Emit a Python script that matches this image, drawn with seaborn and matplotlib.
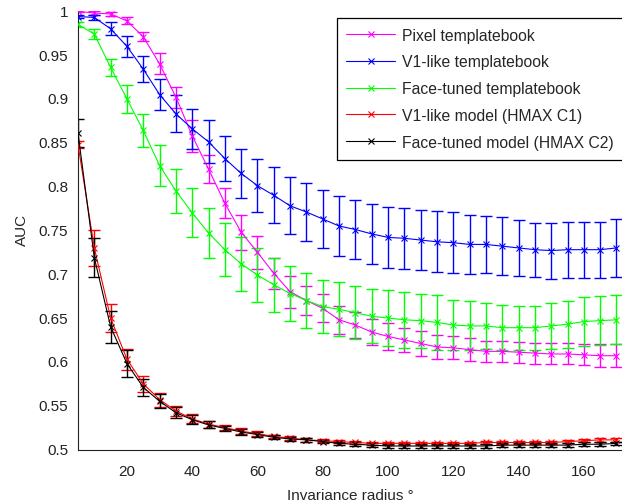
import numpy as np
import pandas as pd
import matplotlib
matplotlib.use("Agg")
import matplotlib.pyplot as plt
import seaborn as sns

sns.set_style("white")
plt.rcParams["font.family"] = ["Liberation Sans", "DejaVu Sans"]

radius = list(range(5, 175, 5))

pixel_auc = [1.000, 0.998, 0.997, 0.989, 0.971, 0.940, 0.902, 0.858, 0.820, 0.781,
             0.748, 0.725, 0.701, 0.680, 0.670, 0.661, 0.648, 0.642, 0.634, 0.629,
             0.625, 0.621, 0.617, 0.616, 0.614, 0.612, 0.612, 0.611, 0.610, 0.609,
             0.609, 0.608, 0.607, 0.607]
pixel_err = [0.001, 0.002, 0.002, 0.004, 0.005, 0.012, 0.012, 0.018, 0.016, 0.017,
             0.020, 0.019, 0.018, 0.018, 0.017, 0.016, 0.016, 0.015, 0.015, 0.015,
             0.014, 0.014, 0.014, 0.013, 0.013, 0.012, 0.012, 0.012, 0.012, 0.012,
             0.012, 0.012, 0.013, 0.013]

v1_auc = [0.994, 0.993, 0.980, 0.960, 0.934, 0.905, 0.883, 0.866, 0.851, 0.832,
          0.815, 0.801, 0.790, 0.778, 0.771, 0.763, 0.755, 0.751, 0.746, 0.742,
          0.741, 0.739, 0.737, 0.736, 0.734, 0.734, 0.732, 0.730, 0.728, 0.727,
          0.728, 0.728, 0.728, 0.730]
v1_err = [0.002, 0.003, 0.0075, 0.012, 0.015, 0.018, 0.021, 0.023, 0.0245, 0.026,
          0.028, 0.030, 0.032, 0.0325, 0.0335, 0.033, 0.034, 0.034, 0.0345, 0.0345,
          0.035, 0.034, 0.035, 0.035, 0.034, 0.033, 0.033, 0.032, 0.031, 0.032,
          0.032, 0.032, 0.032, 0.033]

face_auc = [0.985, 0.974, 0.936, 0.900, 0.864, 0.824, 0.795, 0.770, 0.747, 0.728,
            0.712, 0.699, 0.688, 0.678, 0.670, 0.663, 0.660, 0.656, 0.652, 0.650,
            0.648, 0.647, 0.645, 0.642, 0.641, 0.641, 0.639, 0.639, 0.639, 0.641,
            0.643, 0.646, 0.647, 0.648]
face_err = [0.003, 0.006, 0.0095, 0.016, 0.019, 0.023, 0.025, 0.028, 0.028, 0.030,
            0.031, 0.031, 0.031, 0.031, 0.031, 0.030, 0.031, 0.030, 0.031, 0.032,
            0.032, 0.031, 0.031, 0.029, 0.028, 0.026, 0.026, 0.025, 0.025, 0.026,
            0.027, 0.028, 0.028, 0.028]

c1_auc = [0.848, 0.730, 0.650, 0.603, 0.575, 0.557, 0.544, 0.535, 0.529, 0.525,
          0.521, 0.518, 0.515, 0.513, 0.511, 0.510, 0.509, 0.508, 0.507, 0.507,
          0.507, 0.507, 0.507, 0.507, 0.507, 0.508, 0.508, 0.508, 0.508, 0.508,
          0.509, 0.510, 0.511, 0.511]
c1_err = [0.004, 0.021, 0.016, 0.012, 0.009, 0.008, 0.006, 0.005, 0.004, 0.003,
          0.003, 0.003, 0.002, 0.002, 0.002, 0.002, 0.002, 0.002, 0.002, 0.002,
          0.002, 0.002, 0.002, 0.002, 0.002, 0.002, 0.002, 0.002, 0.002, 0.002,
          0.002, 0.002, 0.002, 0.002]

c2_auc = [0.861, 0.719, 0.640, 0.598, 0.571, 0.555, 0.542, 0.534, 0.528, 0.524,
          0.520, 0.517, 0.514, 0.512, 0.511, 0.509, 0.507, 0.506, 0.505, 0.504,
          0.504, 0.504, 0.504, 0.504, 0.504, 0.504, 0.505, 0.505, 0.505, 0.505,
          0.505, 0.506, 0.506, 0.507]
c2_err = [0.016, 0.022, 0.018, 0.015, 0.010, 0.008, 0.006, 0.005, 0.004, 0.003,
          0.003, 0.003, 0.002, 0.002, 0.002, 0.002, 0.002, 0.002, 0.002, 0.002,
          0.002, 0.002, 0.002, 0.002, 0.002, 0.002, 0.002, 0.002, 0.002, 0.002,
          0.002, 0.002, 0.002, 0.002]

series_names = ["Pixel templatebook", "V1-like templatebook", "Face-tuned templatebook",
                "V1-like model (HMAX C1)", "Face-tuned model (HMAX C2)"]
series_colors = ["#ff00ff", "#0000ff", "#00ff00", "#ff0000", "#000000"]
series_values = [pixel_auc, v1_auc, face_auc, c1_auc, c2_auc]
series_errors = [pixel_err, v1_err, face_err, c1_err, c2_err]

y_ticks = [0.5, 0.55, 0.6, 0.65, 0.7, 0.75, 0.8, 0.85, 0.9, 0.95, 1]
y_tick_labels = ["0.5", "0.55", "0.6", "0.65", "0.7", "0.75", "0.8", "0.85", "0.9", "0.95", "1"]
x_ticks = [20, 40, 60, 80, 100, 120, 140, 160]

W, H = 622, 504
fig = plt.figure(figsize=(W / 100, H / 100), dpi=100)
ax_left, ax_bottom, ax_top = 78, 449.5, 11.3
ax = fig.add_axes([ax_left / W, 1 - ax_bottom / H, 1 - ax_left / W, (ax_bottom - ax_top) / H])

for name, color, vals, errs in zip(series_names, series_colors, series_values, series_errors):
    df = pd.DataFrame({"radius": radius, "auc": vals})
    ax.errorbar(df["radius"], df["auc"], yerr=errs, fmt="none", ecolor=color,
                elinewidth=1.0, capsize=4.3, capthick=1.0, zorder=2)
    sns.lineplot(data=df, x="radius", y="auc", color=color, marker="x",
                 markersize=4.5, markeredgewidth=0.8, markeredgecolor=color,
                 linewidth=0.8, label=name, ax=ax, zorder=3)

ax.set_xlim(5, 171.7)
ax.set_ylim(0.5, 1.0)
ax.set_xticks(x_ticks)
ax.set_xticklabels([str(t) for t in x_ticks])
ax.set_yticks(y_ticks)
ax.set_yticklabels(y_tick_labels)
ax.tick_params(direction="in", length=3.6, width=0.8, labelsize=11, colors="#222222")
ax.tick_params(axis="x", pad=11)
ax.tick_params(axis="y", pad=7)
for side in ("top", "right"):
    ax.spines[side].set_visible(False)
for side in ("left", "bottom"):
    ax.spines[side].set_color("#222222")
    ax.spines[side].set_linewidth(0.8)

ax.set_xlabel("Invariance radius °", fontsize=11, labelpad=7)
ax.set_ylabel("AUC", fontsize=11, labelpad=7)

leg = ax.legend(loc="upper left", bbox_to_anchor=(337 / W, 1 - 18 / H),
                bbox_transform=fig.transFigure, borderaxespad=0, fontsize=11.3,
                frameon=True, fancybox=False, edgecolor="black", framealpha=1,
                handlelength=3.1, handletextpad=0.45, borderpad=0.6,
                handleheight=1.15, labelspacing=0.68)
leg.get_frame().set_linewidth(0.9)

fig.savefig("out.png", dpi=100)
